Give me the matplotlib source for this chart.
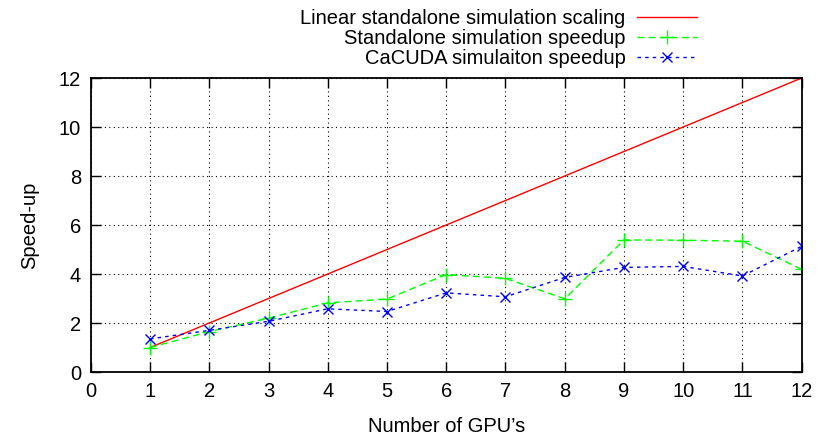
import numpy as np
import matplotlib
matplotlib.use('Agg')
import matplotlib.pyplot as plt

gpus = [1, 2, 3, 4, 5, 6, 7, 8, 9, 10, 11, 12]
linear = [1, 2, 3, 4, 5, 6, 7, 8, 9, 10, 11, 12]
standalone = [1.0, 1.65, 2.2, 2.82, 2.98, 3.98, 3.82, 2.99, 5.39, 5.38, 5.34, 4.19]
cacuda = [1.35, 1.7, 2.07, 2.58, 2.47, 3.23, 3.07, 3.86, 4.27, 4.31, 3.92, 5.13]

plt.rcParams['font.family'] = ['Liberation Sans', 'DejaVu Sans']
plt.rcParams['font.size'] = 14.5

fig = plt.figure(figsize=(8.18, 4.37), dpi=100)
ax = fig.add_axes([0.111, 0.1487, 0.869, 0.6728])

ax.plot(gpus, linear, color='#ff0000', lw=1.0,
        label='Linear standalone simulation scaling')
ax.plot(gpus, standalone, color='#00ff00', lw=1.0, ls=(0, (5, 3)),
        marker='+', ms=10, mew=1.0, label='Standalone simulation speedup')
ax.plot(gpus, cacuda, color='#0000ff', lw=1.0, ls=(0, (2.5, 3)),
        marker='x', ms=7, mew=1.0, label='CaCUDA simulaiton speedup')

ax.set_xlim(0, 12)
ax.set_ylim(0, 12)
ax.set_xticks(range(0, 13))
ax.set_yticks(range(0, 13, 2))
ax.grid(True, color='black', ls=(0, (1, 3)), lw=0.8)
ax.tick_params(direction='in', length=7, width=1.0, top=True, right=True, pad=7)
for s in ax.spines.values():
    s.set_linewidth(1.3)

ax.set_xlabel('Number of GPU\u2019s', labelpad=12)
ax.set_ylabel('Speed-up', labelpad=14)

leg = ax.legend(loc='upper right', bbox_to_anchor=(0.852, 0.979),
                bbox_transform=fig.transFigure, markerfirst=False,
                frameon=False, handlelength=3.0, handletextpad=0.55,
                labelspacing=0.05, borderpad=0.0, borderaxespad=0.0,
                fontsize=14.5)

plt.savefig('out.png', dpi=100)
